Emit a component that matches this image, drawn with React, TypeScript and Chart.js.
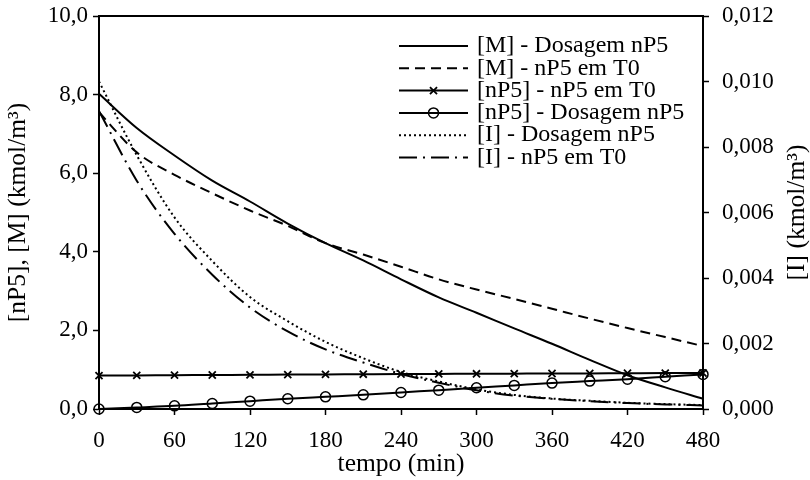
import React, { useEffect, useRef } from 'react';
import { Chart, registerables } from 'chart.js';

Chart.register(...registerables);

// ---- data ----
const minutes = [0, 30, 60, 90, 120, 150, 180, 210, 240, 270, 300, 330, 360, 390, 420, 450, 480];

const mDosagem = [8.02, 7.15, 6.45, 5.81, 5.28, 4.72, 4.22, 3.78, 3.3, 2.84, 2.45, 2.05, 1.66, 1.25, 0.86, 0.55, 0.26];
const mT0 = [7.55, 6.53, 5.96, 5.49, 5.05, 4.66, 4.22, 3.93, 3.62, 3.3, 3.04, 2.8, 2.55, 2.3, 2.06, 1.83, 1.6];
const nP5T0 = [0.85, 0.855, 0.86, 0.865, 0.87, 0.875, 0.88, 0.885, 0.89, 0.893, 0.896, 0.9, 0.903, 0.906, 0.91, 0.913, 0.916];
const nP5Dosagem = [0, 0.04, 0.08, 0.14, 0.2, 0.26, 0.31, 0.36, 0.42, 0.48, 0.54, 0.6, 0.66, 0.71, 0.76, 0.82, 0.88];
const iDosagem = [0.0100, 0.00775, 0.00585, 0.00452, 0.00342, 0.00268, 0.00205, 0.00155, 0.00113, 0.00084, 0.0006, 0.00043, 0.00032, 0.00025, 0.00019, 0.00015, 0.00012];
const iT0 = [0.0091, 0.00697, 0.00535, 0.0041, 0.0031, 0.00237, 0.00182, 0.00142, 0.00107, 0.0008, 0.00057, 0.00041, 0.00031, 0.00024, 0.00018, 0.00014, 0.00011];

const seriesLabels = [
  '[M] - Dosagem nP5',
  '[M] - nP5 em T0',
  '[nP5] - nP5 em T0',
  '[nP5] - Dosagem nP5',
  '[I] - Dosagem nP5',
  '[I] - nP5 em T0',
];

const xTitle = 'tempo (min)';
const yLeftTitle = '[nP5], [M] (kmol/m³)';
const yRightTitle = '[I] (kmol/m³)';

const FONT = "'Liberation Serif', 'Times New Roman', serif";
const FS = 23;
const FS_TITLE = 25.5;
const FS_LEGEND = 24;

const toPoints = (vals: number[]) => minutes.map((m, i) => ({ x: m, y: vals[i] }));

const legendPlugin = {
  id: 'customLegend',
  afterDraw(chart: any) {
    const ctx = chart.ctx as CanvasRenderingContext2D;
    const x0 = 399, x1 = 468, tx = 477, top = 46, row = 22.3;
    ctx.save();
    chart.data.datasets.forEach((ds: any, i: number) => {
      const y = top + i * row;
      ctx.strokeStyle = '#000';
      ctx.lineWidth = ds.borderWidth;
      ctx.setLineDash(ds.borderDash || []);
      ctx.beginPath();
      ctx.moveTo(x0, y);
      ctx.lineTo(x1, y);
      ctx.stroke();
      ctx.setLineDash([]);
      const cx = (x0 + x1) / 2;
      if (ds.pointRadius > 0) {
        const r = ds.pointRadius;
        ctx.lineWidth = ds.pointBorderWidth;
        ctx.beginPath();
        if (ds.pointStyle === 'crossRot') {
          const d = r * Math.SQRT1_2;
          ctx.moveTo(cx - d, y - d); ctx.lineTo(cx + d, y + d);
          ctx.moveTo(cx - d, y + d); ctx.lineTo(cx + d, y - d);
        } else {
          ctx.arc(cx, y, r, 0, Math.PI * 2);
        }
        ctx.stroke();
      }
      ctx.fillStyle = '#000';
      ctx.font = `${FS_LEGEND}px ${FONT}`;
      ctx.textAlign = 'left';
      ctx.textBaseline = 'middle';
      ctx.fillText(ds.label, tx, y);
    });
    ctx.restore();
  },
};

const framePlugin = {
  id: 'frame',
  afterDraw(chart: any) {
    const ctx = chart.ctx as CanvasRenderingContext2D;
    const a = chart.chartArea;
    ctx.save();
    ctx.strokeStyle = '#000';
    ctx.lineWidth = 2;
    ctx.beginPath();
    ctx.moveTo(a.left, a.top);
    ctx.lineTo(a.right, a.top);
    ctx.stroke();
    // right axis title (reads bottom to top)
    ctx.translate(chart.width - 13, (a.top + a.bottom) / 2);
    ctx.rotate(-Math.PI / 2);
    ctx.fillStyle = '#000';
    ctx.font = `${FS_TITLE}px ${FONT}`;
    ctx.textAlign = 'center';
    ctx.textBaseline = 'middle';
    ctx.fillText(yRightTitle, 0, 0);
    ctx.restore();
  },
};

const zeroPad = (s: any) => {
  s.paddingTop = 0;
  s.paddingBottom = 0;
  s.paddingLeft = 0;
  s.paddingRight = 0;
};

export default function App() {
  const ref = useRef<HTMLCanvasElement | null>(null);

  useEffect(() => {
    if (!ref.current) return;
    const lineBase = {
      borderColor: '#000',
      backgroundColor: 'rgba(0,0,0,0)',
      borderWidth: 2,
      fill: false,
      cubicInterpolationMode: 'monotone' as const,
      clip: false as any,
      pointRadius: 0,
      pointBorderWidth: 1.5,
      pointBorderColor: '#000',
      pointBackgroundColor: 'rgba(0,0,0,0)',
    };
    const chart = new Chart(ref.current, {
      type: 'line',
      data: {
        datasets: [
          { ...lineBase, label: seriesLabels[0], data: toPoints(mDosagem), yAxisID: 'y' },
          { ...lineBase, label: seriesLabels[1], data: toPoints(mT0), yAxisID: 'y', borderDash: [10, 6] },
          { ...lineBase, label: seriesLabels[2], data: toPoints(nP5T0), yAxisID: 'y', pointRadius: 5, pointStyle: 'crossRot', pointBorderWidth: 1.8 },
          { ...lineBase, label: seriesLabels[3], data: toPoints(nP5Dosagem), yAxisID: 'y', pointRadius: 5, pointStyle: 'circle', pointBorderWidth: 1.5 },
          { ...lineBase, label: seriesLabels[4], data: toPoints(iDosagem), yAxisID: 'y1', borderDash: [2, 3] },
          { ...lineBase, label: seriesLabels[5], data: toPoints(iT0), yAxisID: 'y1', borderDash: [18, 6, 2, 6] },
        ] as any,
      },
      options: {
        responsive: false,
        animation: false,
        layout: { padding: { top: 16, left: 0, right: 0, bottom: 0 } },
        plugins: {
          legend: { display: false },
          tooltip: { enabled: false },
        },
        scales: {
          x: {
            type: 'linear',
            position: 'bottom',
            min: 0,
            max: 480,
            ticks: { stepSize: 60, color: '#000', font: { family: FONT, size: FS }, padding: 12, maxRotation: 0 },
            grid: { drawOnChartArea: false, drawTicks: true, tickLength: 6, tickColor: '#000', tickWidth: 1.5 },
            border: { color: '#000', width: 2 },
            title: { display: true, text: xTitle, color: '#000', font: { family: FONT, size: FS_TITLE }, padding: { top: 0, bottom: 0 } },
            afterFit: (s: any) => { s.height = 71; zeroPad(s); },
          },
          y: {
            type: 'linear',
            position: 'left',
            min: 0,
            max: 10,
            ticks: {
              stepSize: 2,
              color: '#000',
              font: { family: FONT, size: FS },
              padding: 5,
              callback: (v: any) => Number(v).toFixed(1).replace('.', ','),
            },
            grid: { drawOnChartArea: false, drawTicks: true, tickLength: 6, tickColor: '#000', tickWidth: 1.5 },
            border: { color: '#000', width: 2 },
            title: { display: true, text: yLeftTitle, color: '#000', font: { family: FONT, size: FS_TITLE }, padding: { top: 3, bottom: 3 } },
            afterFit: (s: any) => { s.width = 99; zeroPad(s); },
          },
          y1: {
            type: 'linear',
            position: 'right',
            min: 0,
            max: 0.012,
            ticks: {
              stepSize: 0.002,
              color: '#000',
              font: { family: FONT, size: FS },
              padding: 13,
              callback: (v: any) => Number(v).toFixed(3).replace('.', ','),
            },
            grid: { drawOnChartArea: false, drawTicks: true, tickLength: 6, tickColor: '#000', tickWidth: 1.5 },
            border: { color: '#000', width: 2 },
            afterFit: (s: any) => { s.width = 107; zeroPad(s); },
          },
        },
      } as any,
      plugins: [legendPlugin, framePlugin],
    });
    return () => chart.destroy();
  }, []);

  return (
    <div style={{ position: 'fixed', left: 0, top: 0, width: 810, height: 480, background: '#fff' }}>
      <canvas ref={ref} width={810} height={480} />
    </div>
  );
}
